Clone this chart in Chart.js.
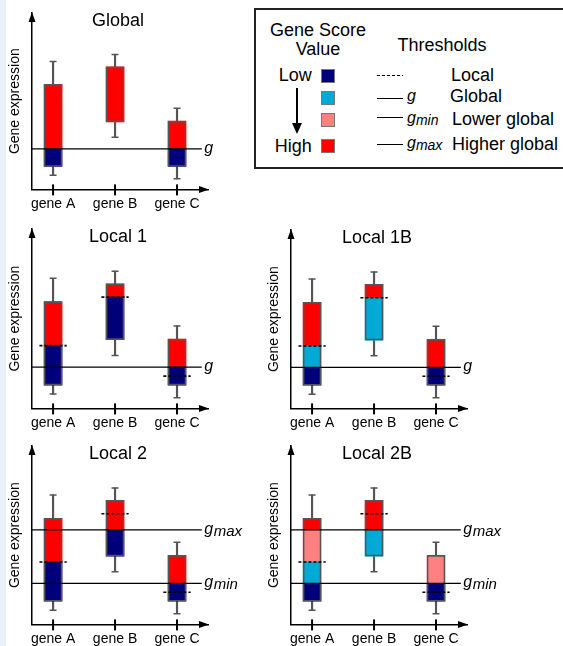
<!DOCTYPE html>
<html>
<head>
<meta charset="utf-8">
<script src="https://cdn.jsdelivr.net/npm/chart.js@4.4.1/dist/chart.umd.min.js"></script>
<style>
html, body { margin: 0; padding: 0; background: #fff; }
body { width: 563px; height: 646px; overflow: hidden; position: relative; font-family: "Liberation Sans", Arial, sans-serif; }
#strip { position: absolute; left: 0; top: 0; width: 6px; height: 646px; background: #e8f2fb; }
canvas { position: absolute; }
#legendBox { position: absolute; left: 254px; top: 8px; width: 330px; height: 161px; box-sizing: border-box; border: 2px solid #222; }
.t { position: absolute; white-space: nowrap; line-height: 1; font-size: 18px; color: #000; }
.gi { position: absolute; white-space: nowrap; line-height: 1; font-size: 16px; font-style: italic; color: #000; }
.gi span { font-size: 14px; position: relative; top: 2px; }
.sq { position: absolute; left: 321px; width: 14px; height: 14px; box-sizing: border-box; border: 1px solid #777; }
.solid { position: absolute; left: 377px; width: 26px; height: 1.3px; background: #000; }
</style>
</head>
<body>
<div id="strip"></div>
<div id="legendBox"></div>
<div class="t" style="left:238px;width:160px;text-align:center;top:20.8px">Gene Score</div>
<div class="t" style="left:238px;width:160px;text-align:center;top:39.8px">Value</div>
<div class="t" style="left:362px;width:160px;text-align:center;top:35.5px">Thresholds</div>
<div class="t" style="left:240px;width:71.7px;text-align:right;top:65.8px">Low</div>
<div class="t" style="left:240px;width:71.7px;text-align:right;top:136.8px">High</div>
<div class="sq" style="top:69px;background:#00007a"></div>
<div class="sq" style="top:91px;background:#00aad4"></div>
<div class="sq" style="top:113px;background:#ff8080"></div>
<div class="sq" style="top:139px;background:#ff0000"></div>
<div style="position:absolute;left:296px;top:88px;width:2px;height:37px;background:#000"></div>
<div style="position:absolute;left:292px;top:123px;width:0;height:0;border-left:5px solid transparent;border-right:5px solid transparent;border-top:11px solid #000"></div>
<div style="position:absolute;left:377px;top:74.5px;width:26px;height:1.5px;background:repeating-linear-gradient(to right,#000 0 3px,transparent 3px 5px)"></div>
<div class="solid" style="top:97.5px"></div>
<div class="solid" style="top:117px"></div>
<div class="solid" style="top:144px"></div>
<div class="gi" style="left:407px;top:87.5px">g</div>
<div class="gi" style="left:407px;top:109.5px">g<span>min</span></div>
<div class="gi" style="left:407px;top:134.5px">g<span>max</span></div>
<div class="t" style="left:451px;top:65.8px">Local</div>
<div class="t" style="left:450px;top:87.1px">Global</div>
<div class="t" style="left:452px;top:109.8px">Lower global</div>
<div class="t" style="left:452px;top:134.8px">Higher global</div>

<script>
const genes = ['gene A', 'gene B', 'gene C'];
const geneX = [1, 2, 3];
const whiskerLow = [8, 29.5, 6];
const boxLow = [13, 38.3, 13];
const boxHigh = [59.5, 69.5, 38.7];
const whiskerHigh = [72.5, 76.5, 46];
const localThreshold = [35, 62, 18];
const gGlobal = 23;
const gMin = 23;
const gMax = 53;

// coloured pieces of each box, [from, to] per gene
const globalNavy = [[13, 23], null, [13, 23]];
const globalRed = [[23, 59.5], [38.3, 69.5], [23, 38.7]];
const local1Navy = [[13, 35], [38.3, 62], [13, 23]];
const local1Red = [[35, 59.5], [62, 69.5], [23, 38.7]];
const local1bNavy = [[13, 23], null, [13, 23]];
const local1bCyan = [[23, 35], [38.3, 62], null];
const local1bRed = [[35, 59.5], [62, 69.5], [23, 38.7]];
const local2Navy = [[13, 35], [38.3, 53], [13, 23]];
const local2Red = [[35, 59.5], [53, 69.5], [23, 38.7]];
const local2bNavy = [[13, 23], null, [13, 23]];
const local2bCyan = [[23, 35], [38.3, 53], null];
const local2bPink = [[35, 53], null, [23, 38.7]];
const local2bRed = [[53, 59.5], [53, 69.5], null];

const family = '"Liberation Sans", Arial, sans-serif';
Chart.defaults.font.family = family;
Chart.defaults.color = '#000';

const colors = { navy: '#00007a', cyan: '#00aad4', pink: '#ff8080', red: '#ff0000' };
const whiskerColor = '#555';

const panels = [
  { title: 'Global', left: 0, tip: 13, h: 174, local: false,
    segs: { navy: globalNavy, red: globalRed },
    lines: [{ v: gGlobal, sub: '' }] },
  { title: 'Local 1', left: 0, tip: 229, h: 177, local: true,
    segs: { navy: local1Navy, red: local1Red },
    lines: [{ v: gGlobal, sub: '' }] },
  { title: 'Local 1B', left: 259, tip: 230, h: 176, local: true,
    segs: { navy: local1bNavy, cyan: local1bCyan, red: local1bRed },
    lines: [{ v: gGlobal, sub: '' }] },
  { title: 'Local 2', left: 0, tip: 446, h: 176, local: true,
    segs: { navy: local2Navy, red: local2Red },
    lines: [{ v: gMax, sub: 'max' }, { v: gMin, sub: 'min' }] },
  { title: 'Local 2B', left: 259, tip: 446, h: 176, local: true,
    segs: { navy: local2bNavy, cyan: local2bCyan, pink: local2bPink, red: local2bRed },
    lines: [{ v: gMax, sub: 'max' }, { v: gMin, sub: 'min' }] }
];

const xMin = 0.66, xMax = 3.5, lineEnd = 3.4;

// axis arrows, tick marks, panel title and threshold labels
const decor = {
  id: 'decor',
  afterDraw(chart, args, opts) {
    const ctx = chart.ctx;
    const { left, top, right, bottom } = chart.chartArea;
    const x = chart.scales.x, y = chart.scales.y;
    ctx.save();
    ctx.fillStyle = '#000';
    ctx.beginPath();
    ctx.moveTo(left, top - 1); ctx.lineTo(left - 3.5, top + 9); ctx.lineTo(left + 3.5, top + 9);
    ctx.fill();
    ctx.beginPath();
    ctx.moveTo(right + 1, bottom); ctx.lineTo(right - 9, bottom - 3.5); ctx.lineTo(right - 9, bottom + 3.5);
    ctx.fill();

    ctx.strokeStyle = '#000';
    ctx.lineWidth = 2;
    geneX.forEach(v => {
      const px = x.getPixelForValue(v);
      ctx.beginPath(); ctx.moveTo(px, bottom - 5); ctx.lineTo(px, bottom + 6); ctx.stroke();
    });

    ctx.font = '18px ' + family;
    ctx.textAlign = 'center';
    ctx.textBaseline = 'alphabetic';
    ctx.fillText(opts.title, (left + right) / 2 - 2, top + 12.5);

    ctx.textAlign = 'left';
    const lx = x.getPixelForValue(lineEnd) + 2.5;
    opts.lines.forEach(l => {
      const py = y.getPixelForValue(l.v);
      ctx.font = 'italic 16px ' + family;
      ctx.fillText('g', lx, py + 4);
      if (l.sub) {
        const gw = ctx.measureText('g').width;
        ctx.font = 'italic 15px ' + family;
        ctx.fillText(l.sub, lx + gw + 0.5, py + 6);
      }
    });
    ctx.restore();
  }
};

panels.forEach(p => {
  const cv = document.createElement('canvas');
  const W = 252, H = p.h + 50;
  cv.width = W; cv.height = H;
  cv.style.left = p.left + 'px';
  cv.style.top = (p.tip - 13) + 'px';
  cv.style.width = W + 'px';
  cv.style.height = H + 'px';
  document.body.appendChild(cv);

  const datasets = [];
  p.lines.forEach(l => {
    datasets.push({ type: 'line', data: [{ x: xMin, y: l.v }, { x: lineEnd, y: l.v }],
      borderColor: '#000', borderWidth: 1.2, pointRadius: 0, order: 0 });
  });
  if (p.local) {
    const dash = [];
    geneX.forEach((gx, i) => {
      dash.push({ x: gx - 0.22, y: localThreshold[i] });
      dash.push({ x: gx + 0.22, y: localThreshold[i] });
      dash.push({ x: gx + 0.5, y: null });
    });
    datasets.push({ type: 'line', data: dash, borderColor: '#000', borderWidth: 1.6,
      borderDash: [3, 2], pointRadius: 0, spanGaps: false, order: 0 });
  }
  datasets.push({ type: 'bar', data: geneX.map((gx, i) => ({ x: gx, y: [boxLow[i], boxHigh[i]] })),
    backgroundColor: 'rgba(0,0,0,0)', borderColor: '#555', borderWidth: 1, borderSkipped: false,
    barThickness: 18, grouped: false, order: 1 });
  Object.entries(p.segs).forEach(([c, arr]) => {
    const pts = [];
    arr.forEach((s, i) => { if (s) pts.push({ x: geneX[i], y: s }); });
    datasets.push({ type: 'bar', data: pts, backgroundColor: colors[c], borderWidth: 0,
      barThickness: 18, grouped: false, order: 2 });
  });
  const caps = [];
  geneX.forEach((gx, i) => {
    caps.push({ x: gx, y: whiskerHigh[i] });
    caps.push({ x: gx, y: whiskerLow[i] });
  });
  datasets.push({ type: 'line', data: caps, showLine: false, pointStyle: 'line', pointRadius: 3.5,
    pointBorderWidth: 1.5, pointBorderColor: whiskerColor, borderColor: whiskerColor, order: 3 });
  datasets.push({ type: 'bar', data: geneX.map((gx, i) => ({ x: gx, y: [whiskerLow[i], whiskerHigh[i]] })),
    backgroundColor: whiskerColor, borderWidth: 0, barThickness: 1.5, grouped: false, order: 4 });

  new Chart(cv, {
    type: 'bar',
    data: { datasets: datasets },
    options: {
      responsive: false,
      animation: false,
      devicePixelRatio: 1,
      layout: { padding: { left: 7.2, top: 13, right: 44, bottom: 4.6 } },
      plugins: {
        legend: { display: false },
        tooltip: { enabled: false },
        decor: { title: p.title, lines: p.lines }
      },
      scales: {
        x: {
          type: 'linear', min: xMin, max: xMax, offset: false,
          afterBuildTicks: s => { s.ticks = geneX.map(v => ({ value: v })); },
          ticks: { callback: v => genes[v - 1], font: { size: 14 }, color: '#000', padding: 6.6,
            maxRotation: 0, autoSkip: false },
          grid: { display: false, drawTicks: false },
          border: { display: true, color: '#000', width: 1.5 }
        },
        y: {
          min: 0, max: 100,
          ticks: { display: false },
          grid: { display: false, drawTicks: false },
          border: { display: true, color: '#000', width: 1.5 },
          title: { display: true, text: 'Gene expression', font: { size: 14 }, color: '#000',
            padding: { top: 0, bottom: 8 } }
        }
      }
    },
    plugins: [decor]
  });
});
</script>
</body>
</html>
